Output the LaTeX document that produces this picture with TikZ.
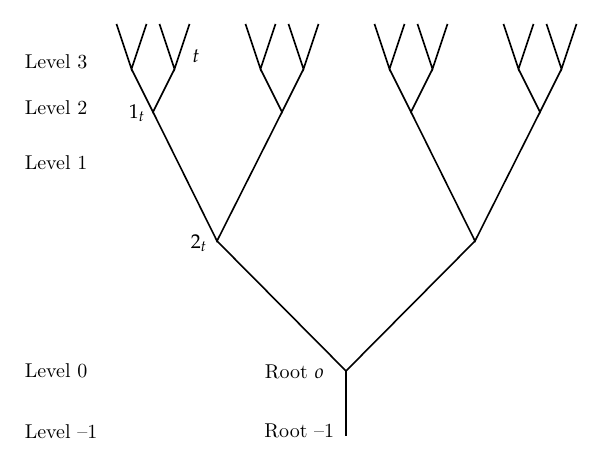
\documentclass[tikz,border=0pt]{standalone}
\usepackage{amsmath}
\usepackage{mathpazo}
\usetikzlibrary{positioning,calc}
\tikzset{lvl/.style={anchor=west,inner sep=0pt},
  lbl/.style={anchor=east,inner sep=0pt}}

\begin{document}
\begin{tikzpicture}[x=0.5pt,y=0.5pt,line width=0.8pt]
\useasboundingbox (0,0) rectangle (600,459);

% level labels
\node [lvl] (lv3) at (24,397) {Level 3};
\node [lvl] (lv2) at (24,351) {Level 2};
\node [lvl] (lv1) at (24,296) {Level 1};
\node [lvl] (lv0) at (24,88) {Level 0};
\node [lvl] (lvm) at (24,27) {Level \textendash1};

% tree vertices
\coordinate (rm) at (346,23);
\coordinate (r) at (346,88);
\coordinate (a) at (217,218);
\coordinate (b) at (475,218);
\coordinate (aa) at (153,347);
\coordinate (ab) at (282,347);
\coordinate (ba) at (411,347);
\coordinate (bb) at (540,347);

\draw (rm) -- (r);
\draw (a) -- (r) -- (b);
\draw (aa) -- (a) -- (ab);
\draw (ba) -- (b) -- (bb);

\foreach \p in {aa,ab,ba,bb} {
  \coordinate (\p1) at ($(\p)+(-21.5,43)$);
  \coordinate (\p2) at ($(\p)+(21.5,43)$);
  \draw (\p1) -- (\p) -- (\p2);
  \foreach \q in {\p1,\p2} {
    \coordinate (\q-l) at ($(\q)+(-15,45)$);
    \coordinate (\q-r) at ($(\q)+(15,45)$);
    \draw (\q-l) -- (\q) -- (\q-r);
  }
}

% vertex labels
\node [lbl] (one) at (146,346) {$1_t$};
\node [lbl] (two) at (208,216) {$2_t$};
\node [inner sep=0pt] (tt) at (196,403) {$t$};
\node [lbl] (ro) at (325,87) {Root $o$};
\node [lbl] (rmo) at (335,28) {Root \textendash1};

\end{tikzpicture}
\end{document}
